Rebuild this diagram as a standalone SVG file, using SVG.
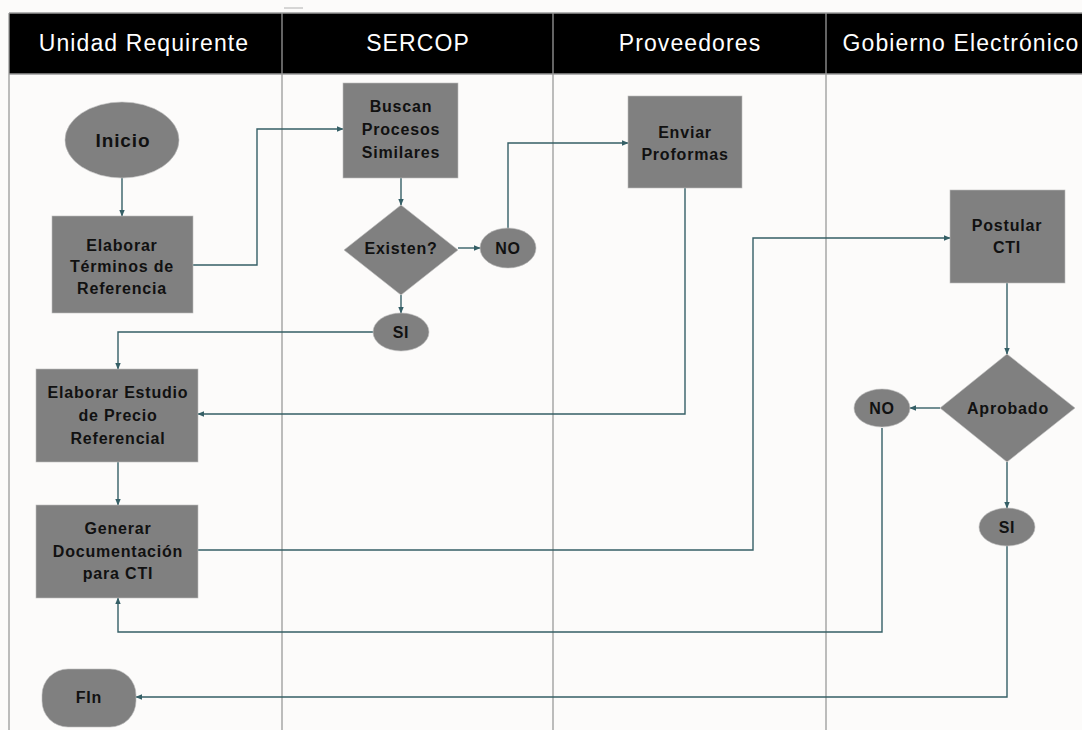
<svg xmlns="http://www.w3.org/2000/svg" width="1082" height="730" viewBox="0 0 1082 730">
  <style>
    .lane { stroke: #9a9a9a; stroke-width: 1.3; fill: none; }
    .hdr { fill: #ffffff; font-family: "Liberation Sans", Arial, sans-serif; font-size: 23px; letter-spacing: 1.1px; text-anchor: middle; }
    .shape { fill: #808080; stroke: #bdbdbd; stroke-width: 0.6; }
    .lbl { fill: #111111; font-family: "Liberation Sans", Arial, sans-serif; font-size: 16px; letter-spacing: 0.8px; font-weight: bold; text-anchor: middle; }
    .big { font-size: 19px; letter-spacing: 0.9px; }
    .conn { stroke: #355f66; stroke-width: 1.4; fill: none; marker-end: url(#arr); }
  </style>
  <defs>
    <marker id="arr" viewBox="0 0 10 10" refX="9" refY="5" markerWidth="7" markerHeight="7" markerUnits="userSpaceOnUse" orient="auto">
      <path d="M0,1 L10,5 L0,9 z" fill="#355f66"/>
    </marker>
  </defs>

  <rect x="0" y="0" width="1082" height="730" fill="#fcfbfa"/>
  <line x1="284" y1="8" x2="303" y2="8" stroke="#b0b0b0" stroke-width="1"/>

  <!-- swimlane header -->
  <g id="header">
    <rect x="9" y="13" width="1075" height="61" fill="#000000"/>
    <line class="lane" x1="9" y1="13" x2="1082" y2="13"/>
    <line class="lane" x1="9" y1="74" x2="1082" y2="74"/>
    <text class="hdr" x="144" y="51">Unidad Requirente</text>
    <text class="hdr" x="418" y="51">SERCOP</text>
    <text class="hdr" x="690" y="51">Proveedores</text>
    <text class="hdr" x="961" y="51">Gobierno Electrónico</text>
  </g>

  <!-- lane dividers -->
  <g id="lanes">
    <line class="lane" x1="9" y1="13" x2="9" y2="730"/>
    <line class="lane" x1="282" y1="13" x2="282" y2="730"/>
    <line class="lane" x1="553" y1="13" x2="553" y2="730"/>
    <line class="lane" x1="826" y1="13" x2="826" y2="730"/>
  </g>

  <!-- connectors -->
  <g id="connectors">
    <path class="conn" d="M122,178 L122,216"/>
    <path class="conn" d="M193,265 L257,265 L257,129 L343,129"/>
    <path class="conn" d="M401,178 L401,205"/>
    <path class="conn" d="M458,248 L480,248"/>
    <path class="conn" d="M401,295 L401,313"/>
    <path class="conn" d="M373,332 L118,332 L118,369"/>
    <path class="conn" d="M508,228 L508,143 L628,143"/>
    <path class="conn" d="M685,188 L685,414 L198,414"/>
    <path class="conn" d="M118,462 L118,505"/>
    <path class="conn" d="M198,550 L753,550 L753,238 L950,238"/>
    <path class="conn" d="M1007,283 L1007,354"/>
    <path class="conn" d="M940,408 L910,408"/>
    <path class="conn" d="M1007,462 L1007,508"/>
    <path class="conn" d="M882,428 L882,632 L118,632 L118,598"/>
    <path class="conn" d="M1007,546 L1007,697 L136,697"/>
  </g>

  <g id="inicio">
    <ellipse class="shape" cx="122" cy="140" rx="57" ry="38"/>
    <text class="lbl big" x="123" y="147">Inicio</text>
  </g>

  <g id="elaborar-terminos">
    <rect class="shape" x="52" y="216" width="141" height="97"/>
    <text class="lbl" x="122" y="251">Elaborar</text>
    <text class="lbl" x="122" y="272">Términos de</text>
    <text class="lbl" x="122" y="294">Referencia</text>
  </g>

  <g id="buscan">
    <rect class="shape" x="343" y="83" width="115" height="95"/>
    <text class="lbl" x="401" y="112">Buscan</text>
    <text class="lbl" x="401" y="135">Procesos</text>
    <text class="lbl" x="401" y="158">Similares</text>
  </g>

  <g id="existen">
    <polygon class="shape" points="401,205 458,250 401,295 344,250"/>
    <text class="lbl" x="401" y="254">Existen?</text>
  </g>

  <g id="no-sercop">
    <ellipse class="shape" cx="508" cy="248" rx="28" ry="20"/>
    <text class="lbl" x="508" y="254">NO</text>
  </g>

  <g id="si-sercop">
    <ellipse class="shape" cx="401" cy="332" rx="28" ry="19"/>
    <text class="lbl" x="401" y="338">SI</text>
  </g>

  <g id="enviar-proformas">
    <rect class="shape" x="628" y="96" width="114" height="92"/>
    <text class="lbl" x="685" y="138">Enviar</text>
    <text class="lbl" x="685" y="160">Proformas</text>
  </g>

  <g id="postular-cti">
    <rect class="shape" x="950" y="190" width="115" height="93"/>
    <text class="lbl" x="1007" y="231">Postular</text>
    <text class="lbl" x="1007" y="253">CTI</text>
  </g>

  <g id="aprobado">
    <polygon class="shape" points="1007,354 1075,408 1007,462 940,408"/>
    <text class="lbl" x="1008" y="414">Aprobado</text>
  </g>

  <g id="no-gobierno">
    <ellipse class="shape" cx="882" cy="408" rx="28" ry="19"/>
    <text class="lbl" x="882" y="414">NO</text>
  </g>

  <g id="si-gobierno">
    <ellipse class="shape" cx="1007" cy="527" rx="28" ry="19"/>
    <text class="lbl" x="1007" y="533">SI</text>
  </g>

  <g id="elaborar-estudio">
    <rect class="shape" x="36" y="369" width="162" height="93"/>
    <text class="lbl" x="118" y="398">Elaborar Estudio</text>
    <text class="lbl" x="118" y="421">de Precio</text>
    <text class="lbl" x="118" y="444">Referencial</text>
  </g>

  <g id="generar-documentacion">
    <rect class="shape" x="36" y="505" width="162" height="93"/>
    <text class="lbl" x="118" y="534">Generar</text>
    <text class="lbl" x="118" y="557">Documentación</text>
    <text class="lbl" x="118" y="579">para CTI</text>
  </g>

  <g id="fin">
    <rect class="shape" x="42" y="669" width="94" height="58" rx="26" ry="26"/>
    <text class="lbl" x="89" y="703">FIn</text>
  </g>
</svg>
